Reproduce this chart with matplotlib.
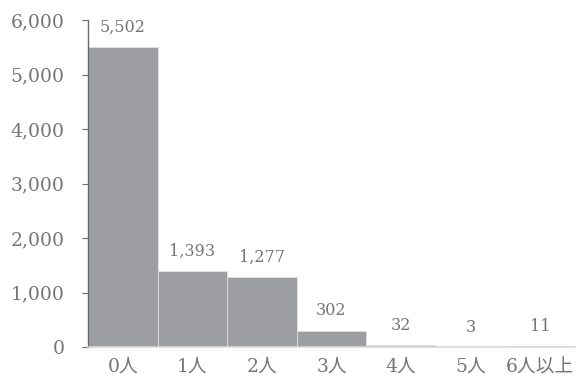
import matplotlib
matplotlib.use('Agg')
import matplotlib.pyplot as plt
from matplotlib.ticker import FuncFormatter

# 世帯あたり人数の分布
categories = ['0人', '1人', '2人', '3人', '4人', '5人', '6人以上']
counts = [5502, 1393, 1277, 302, 32, 3, 11]
yticks = [0, 1000, 2000, 3000, 4000, 5000, 6000]

plt.rcParams['font.family'] = ['DejaVu Serif', 'Noto Sans CJK JP', 'DejaVu Sans']
text_color = '#767676'

fig = plt.figure(figsize=(5.76, 3.78), dpi=100)
ax = fig.add_axes([0.153, 0.082, 0.845, 0.865])

x = list(range(len(categories)))
bars = ax.bar(x, counts, width=1.0, color='#9d9ea2', edgecolor='#e6e6e6', linewidth=0.5)

for xi, v in zip(x, counts):
    ax.annotate(f'{v:,}', (xi, v), xytext=(0, 8), textcoords='offset points',
                ha='center', va='bottom', fontsize=11.5, color=text_color)

ax.set_xlim(-0.5, len(categories) - 0.5)
ax.set_ylim(0, 6000)
ax.set_yticks(yticks)
ax.yaxis.set_major_formatter(FuncFormatter(lambda v, p: f'{int(v):,}'))
ax.set_xticks(x)
ax.set_xticklabels(categories)

ax.spines['top'].set_visible(False)
ax.spines['right'].set_visible(False)
ax.spines['left'].set_color('#6b6b6b')
ax.spines['left'].set_linewidth(1.0)
ax.spines['bottom'].set_color('#d9d9d9')
ax.spines['bottom'].set_linewidth(1.2)

ax.tick_params(axis='y', length=4, color='#6b6b6b', pad=13, labelsize=13.5, labelcolor=text_color)
ax.tick_params(axis='x', length=0, pad=8, labelsize=13.5, labelcolor=text_color)

fig.savefig('out.png', dpi=100)
